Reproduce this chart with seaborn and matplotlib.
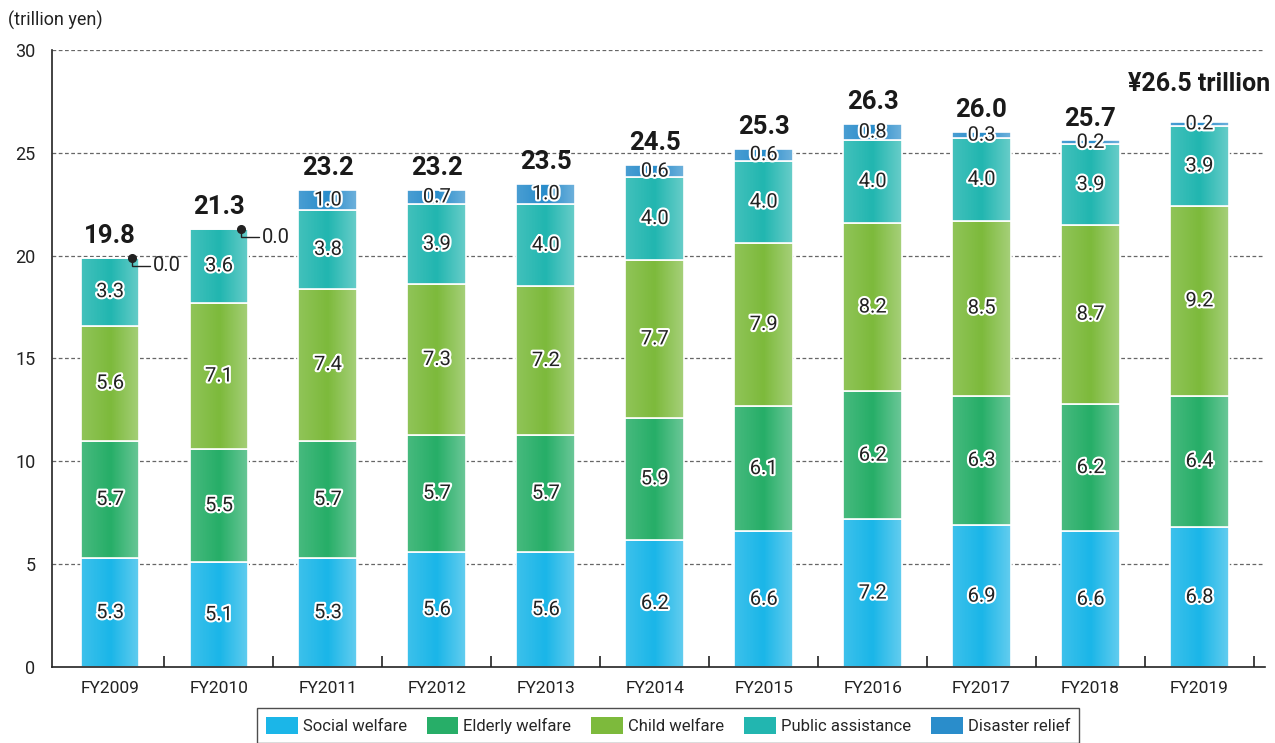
import numpy as np
import pandas as pd
import matplotlib
matplotlib.use("Agg")
import matplotlib.pyplot as plt
import matplotlib.patheffects as pe
from matplotlib.patches import Patch
from matplotlib.ticker import FixedLocator
import seaborn as sns

years = ["FY2009", "FY2010", "FY2011", "FY2012", "FY2013", "FY2014",
         "FY2015", "FY2016", "FY2017", "FY2018", "FY2019"]
social_welfare = [5.3, 5.1, 5.3, 5.6, 5.6, 6.2, 6.6, 7.2, 6.9, 6.6, 6.8]
elderly_welfare = [5.7, 5.5, 5.7, 5.7, 5.7, 5.9, 6.1, 6.2, 6.3, 6.2, 6.4]
child_welfare = [5.6, 7.1, 7.4, 7.3, 7.2, 7.7, 7.9, 8.2, 8.5, 8.7, 9.2]
public_assistance = [3.3, 3.6, 3.8, 3.9, 4.0, 4.0, 4.0, 4.0, 4.0, 3.9, 3.9]
disaster_relief = [0.0, 0.0, 1.0, 0.7, 1.0, 0.6, 0.6, 0.8, 0.3, 0.2, 0.2]
totals = [19.8, 21.3, 23.2, 23.2, 23.5, 24.5, 25.3, 26.3, 26.0, 25.7, 26.5]
total_labels = ["19.8", "21.3", "23.2", "23.2", "23.5", "24.5",
                "25.3", "26.3", "26.0", "25.7", "¥26.5 trillion"]

series_names = ["Social welfare", "Elderly welfare", "Child welfare",
                "Public assistance", "Disaster relief"]
series_values = [social_welfare, elderly_welfare, child_welfare,
                 public_assistance, disaster_relief]
colors = ["#1bb6e8", "#27ae68", "#7dba3c", "#22b6b0", "#2a8dcb"]

sns.set_theme(style="white")
plt.rcParams["font.family"] = ["Roboto", "DejaVu Sans"]

fig = plt.figure(figsize=(12.75, 7.43), dpi=100)
ax = fig.add_axes([0.041, 0.102, 0.951, 0.831])

df = pd.DataFrame({"year": years})
bottom = np.zeros(len(years))
bar_w = 0.54
for name, vals, col in zip(series_names, series_values, colors):
    df[name] = vals
    sns.barplot(data=df, x="year", y=name, bottom=bottom, color=col,
                width=bar_w, saturation=1, ax=ax, zorder=2,
                edgecolor="white", linewidth=1.2)
    bottom = bottom + np.array(vals)

# horizontal sheen on every bar segment
grad = np.concatenate([np.linspace(0.15, 0.0, 50), np.linspace(0.0, 0.32, 50)])
rgba = np.zeros((1, grad.size, 4))
rgba[..., :3] = 1.0
rgba[..., 3] = grad
for cont in ax.containers:
    for p in cont.patches:
        if p.get_height() <= 0:
            continue
        x0, y0 = p.get_x(), p.get_y()
        im = ax.imshow(rgba, extent=[x0, x0 + p.get_width(), y0, y0 + p.get_height()],
                       aspect="auto", zorder=2.5, interpolation="bilinear")
        im.set_clip_path(p)
        p.set_edgecolor("white")

halo = [pe.withStroke(linewidth=3, foreground="white")]
xs = np.arange(len(years))

# segment value labels
base = np.zeros(len(years))
for vals in series_values:
    for i, v in enumerate(vals):
        if v <= 0:
            continue
        ax.text(i, base[i] + v / 2, f"{v:.1f}", ha="center", va="center",
                fontsize=14.5, color="#222222", path_effects=halo, zorder=5)
    base = base + np.array(vals)

# zero disaster relief: dot with leader line
for i, v in enumerate(disaster_relief):
    if v > 0:
        continue
    top = base[i]
    dx = 0.2
    ax.plot([i + dx, i + dx, i + bar_w / 2 + 0.1], [top, top - 0.4, top - 0.4],
            color="#222222", lw=1, zorder=6, solid_joinstyle="miter")
    ax.plot([i + dx], [top], "o", color="#222222", ms=5.5, zorder=6)
    ax.text(i + bar_w / 2 + 0.12, top - 0.4, f"{v:.1f}", ha="left", va="center",
            fontsize=14.5, color="#222222", zorder=6)

# totals above the bars
for i, lab in enumerate(total_labels):
    off = 1.85 if i == len(years) - 1 else 1.05
    ax.text(i, base[i] + off, lab, ha="center", va="center",
            fontsize=18 if i == len(years) - 1 else 18.5,
            fontweight="bold", color="#1a1a1a", zorder=6)

ax.set_xlim(-0.53, 10.6)
ax.set_ylim(0, 30)
ax.set_yticks(np.arange(0, 31, 5))
ax.set_yticklabels([str(t) for t in range(0, 31, 5)], fontsize=13, color="#222222")
ax.set_xticks(xs)
ax.set_xticklabels(years, fontsize=12.5, color="#222222")
ax.xaxis.set_minor_locator(FixedLocator(np.arange(0.5, 10.6, 1.0)))
ax.tick_params(axis="x", which="major", length=0, pad=10)
ax.tick_params(axis="x", which="minor", direction="in", length=8, width=1.2,
               color="#222222", bottom=True)
ax.tick_params(axis="y", length=0, pad=12)
ax.set_xlabel("")
ax.set_ylabel("")
for yv in range(5, 31, 5):
    ax.axhline(yv, color="#666666", lw=0.9, ls=(0, (3, 2)), zorder=1)
for s in ["top", "right"]:
    ax.spines[s].set_visible(False)
for s in ["left", "bottom"]:
    ax.spines[s].set_color("#222222")
    ax.spines[s].set_linewidth(1.2)

fig.text(0.006, 0.972, "(trillion yen)", fontsize=13, color="#222222",
         ha="left", va="center")

handles = [Patch(facecolor=c, edgecolor="none") for c in colors]
leg = fig.legend(handles, series_names, loc="upper center",
                 bbox_to_anchor=(0.524, 0.047), ncol=5, fontsize=12,
                 frameon=True, fancybox=False, edgecolor="#222222",
                 handlelength=1.9, handleheight=1.15, columnspacing=1.2,
                 handletextpad=0.3, borderpad=0.55, borderaxespad=0)
leg.get_frame().set_linewidth(1.0)

fig.savefig("out.png", dpi=100)
